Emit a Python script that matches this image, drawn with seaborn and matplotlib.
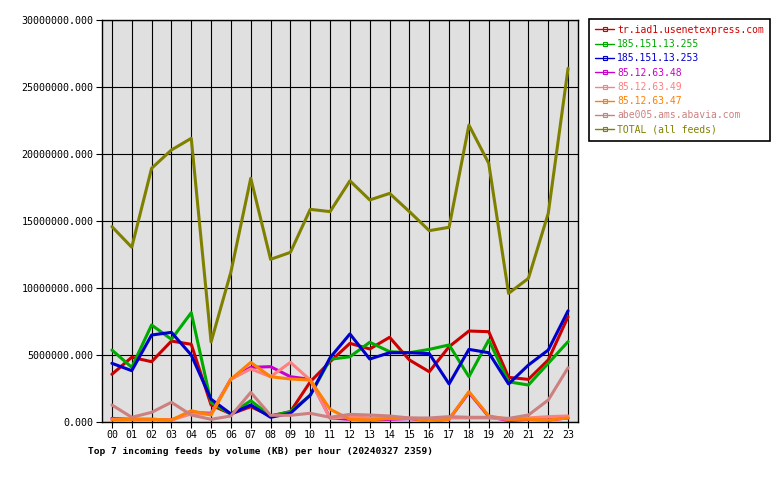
import matplotlib
matplotlib.use("Agg")
import matplotlib.pyplot as plt
from matplotlib.lines import Line2D
from matplotlib.ticker import FuncFormatter, MultipleLocator
import seaborn as sns
import pandas as pd

hours = [f"{h:02d}" for h in range(24)]

feeds = ["tr.iad1.usenetexpress.com", "185.151.13.255", "185.151.13.253",
         "85.12.63.48", "85.12.63.49", "85.12.63.47", "abe005.ams.abavia.com",
         "TOTAL (all feeds)"]

tr_iad1 = [3.56, 4.83, 4.5, 6.04, 5.8, 1.27, 0.6, 1.14, 0.45, 0.77, 3.0, 4.5,
           5.87, 5.45, 6.32, 4.63, 3.75, 5.62, 6.79, 6.74, 3.33, 3.18, 4.63, 7.86]
ip_255 = [5.37, 4.08, 7.24, 6.17, 8.16, 1.45, 0.6, 1.59, 0.45, 0.77, 2.0, 4.68,
          4.87, 5.95, 5.25, 5.17, 5.42, 5.75, 3.38, 6.12, 3.0, 2.76, 4.38, 6.0]
ip_253 = [4.38, 3.83, 6.49, 6.69, 5.0, 1.7, 0.6, 1.27, 0.35, 0.65, 2.0, 4.8,
          6.57, 4.7, 5.17, 5.17, 5.1, 2.84, 5.42, 5.17, 2.84, 4.25, 5.37, 8.3]
ip_48 = [0.27, 0.2, 0.2, 0.15, 0.7, 0.65, 3.2, 4.08, 4.13, 3.38, 3.18, 0.3,
         0.2, 0.15, 0.2, 0.25, 0.1, 0.2, 2.2, 0.4, 0.1, 0.2, 0.15, 0.3]
ip_49 = [0.2, 0.2, 0.2, 0.15, 0.6, 0.6, 3.2, 3.96, 3.38, 4.45, 3.13, 0.27,
         0.4, 0.3, 0.3, 0.3, 0.2, 0.3, 0.3, 0.3, 0.2, 0.3, 0.4, 0.45]
ip_47 = [0.15, 0.2, 0.2, 0.15, 0.84, 0.52, 3.19, 4.45, 3.38, 3.21, 3.13, 0.95,
         0.2, 0.15, 0.27, 0.27, 0.1, 0.2, 2.26, 0.45, 0.2, 0.2, 0.15, 0.3]
abe005 = [1.27, 0.35, 0.72, 1.47, 0.52, 0.2, 0.45, 2.21, 0.5, 0.5, 0.65, 0.35,
          0.57, 0.52, 0.45, 0.3, 0.3, 0.4, 0.35, 0.35, 0.27, 0.52, 1.64, 4.05]
total = [14.58, 13.04, 18.93, 20.3, 21.17, 5.97, 11.2, 18.19, 12.14, 12.66, 15.87, 15.7,
         18.0, 16.57, 17.06, 15.7, 14.28, 14.53, 22.16, 19.3, 9.6, 10.72, 15.57, 26.4]

series = [tr_iad1, ip_255, ip_253, ip_48, ip_49, ip_47, abe005, total]
colors = ["#cc0000", "#00aa00", "#0000cc", "#cc00cc", "#ff8080", "#ff8000",
          "#cc8080", "#808000"]

rows = []
for name, vals in zip(feeds, series):
    for i, v in enumerate(vals):
        rows.append({"hour": i, "feed": name, "kb": v * 1e6})
df = pd.DataFrame(rows)

sns.set_theme(style="white")
plt.rcParams["font.family"] = ["DejaVu Sans Mono", "DejaVu Sans"]

fig = plt.figure(figsize=(7.8, 4.8), dpi=100)
ax = fig.add_axes([102 / 780, 1 - 422 / 480, (578 - 102) / 780, (422 - 20) / 480])
ax.set_facecolor("#e0e0e0")

sns.lineplot(data=df, x="hour", y="kb", hue="feed", hue_order=feeds,
             palette=dict(zip(feeds, colors)), linewidth=2.2, ax=ax,
             legend=False, zorder=3)

ax.set_xlim(-0.5, 23.5)
ax.set_ylim(0, 30e6)
ax.set_xticks(range(24))
ax.set_xticklabels(hours)
ax.yaxis.set_major_locator(MultipleLocator(5e6))
ax.yaxis.set_major_formatter(FuncFormatter(lambda v, p: f"{v:.3f}"))
ax.grid(True, color="black", linewidth=0.8, zorder=1)
ax.set_axisbelow(True)
for s in ax.spines.values():
    s.set_color("black")
    s.set_linewidth(1.0)
ax.tick_params(axis="both", which="major", direction="out", length=4, width=0.8,
               color="black", labelsize=7.2, labelcolor="black", pad=2,
               bottom=True, left=True)
ax.set_xlabel("")
ax.set_ylabel("")

handles = [Line2D([0], [0], color=c, linewidth=1.0, marker="s", markersize=2.5,
                  markerfacecolor="none", markeredgecolor=c, markeredgewidth=0.8)
           for c in colors]
leg = fig.legend(handles, feeds, loc="upper left",
                 bbox_to_anchor=(589 / 780, 1 - 19 / 480),
                 frameon=True, fancybox=False, framealpha=1, edgecolor="black",
                 fontsize=7.0, handlelength=2.0, handletextpad=0.3,
                 labelspacing=0.44, borderpad=0.6, borderaxespad=0)
leg.get_frame().set_linewidth(1.2)
for t, c in zip(leg.get_texts(), colors):
    t.set_color(c)

fig.text(88 / 780, 1 - 452 / 480, "Top 7 incoming feeds by volume (KB) per hour (20240327 2359)",
         fontsize=6.8, fontweight="bold", color="black", ha="left", va="center")

fig.savefig("out.png", dpi=100, facecolor="white")
